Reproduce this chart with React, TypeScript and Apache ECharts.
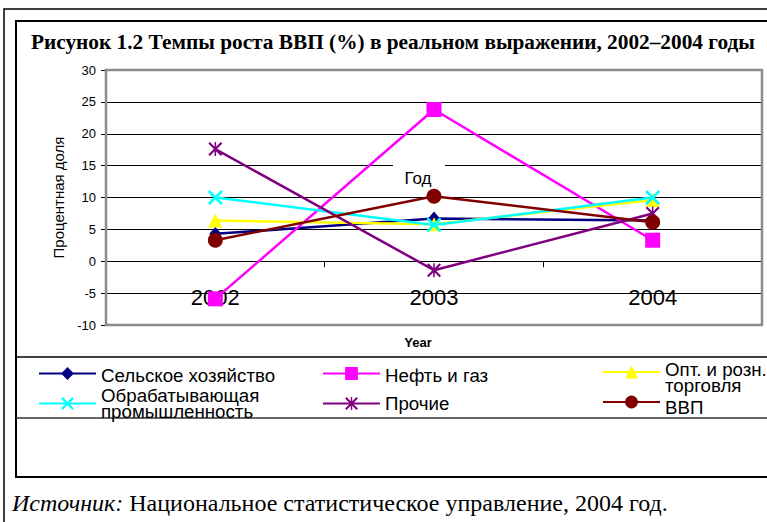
import React, { useEffect, useRef } from "react";
import * as echarts from "echarts";

const years = ["2002", "2003", "2004"];
const agriculture = [4.3, 6.7, 6.4];
const oilGas = [-5.9, 23.8, 3.3];
const trade = [6.4, 5.8, 9.6];
const manufacturing = [10.0, 5.7, 10.0];
const other = [17.6, -1.4, 7.5];
const gdp = [3.3, 10.2, 6.1];

const yMin = -10;
const yMax = 30;
const yStep = 5;

const seriesNames = [
  "Сельское хозяйство",
  "Нефть и газ",
  "Опт. и розн. торговля",
  "Обрабатывающая промышленность",
  "Прочие",
  "ВВП",
];
const legendLines = [
  ["Сельское хозяйство"],
  ["Нефть и газ"],
  ["Опт. и розн.", "торговля"],
  ["Обрабатывающая", "промышленность"],
  ["Прочие"],
  ["ВВП"],
];
const seriesValues = [agriculture, oilGas, trade, manufacturing, other, gdp];
const seriesColors = ["#000080", "#FF00FF", "#FFFF00", "#00FFFF", "#800080", "#800000"];

const titleText = "Рисунок 1.2 Темпы роста ВВП (%) в реальном выражении, 2002–2004 годы";
const yAxisTitle = "Процентная доля";
const xAxisTitle = "Year";
const floatingLabel = "Год";
const sourceLabel = "Источник:";
const sourceText = "Национальное статистическое управление, 2004 год.";

const X_PATH =
  "path://M2.5,0 L10,7.5 L17.5,0 L20,2.5 L12.5,10 L20,17.5 L17.5,20 L10,12.5 L2.5,20 L0,17.5 L7.5,10 L0,2.5 Z";
const STAR_PATH =
  "path://M2.2,0 L10,7.8 L17.8,0 L20,2.2 L12.2,10 L20,17.8 L17.8,20 L10,12.2 L2.2,20 L0,17.8 L7.8,10 L0,2.2 Z M8.9,0 L11.1,0 L11.1,20 L8.9,20 Z";

const seriesSymbols = ["diamond", "rect", "triangle", X_PATH, STAR_PATH, "circle"];
const seriesSymbolSizes: any[] = [[12, 14], 15, 14, 15, 14, 15];

// pad: top padding of a single text line; spacer: height of an empty leading line (multi-line labels)
const legendLayout = [
  { left: 38, top: 362, pad: 4, spacer: 0 },
  { left: 322, top: 362, pad: 4, spacer: 0 },
  { left: 602, top: 350.5, pad: 0, spacer: 11 },
  { left: 38, top: 386, pad: 0, spacer: 0 },
  { left: 322, top: 394, pad: 0, spacer: 0 },
  { left: 602, top: 387, pad: 11, spacer: 0 },
];

export default function App() {
  const ref = useRef<HTMLDivElement>(null);

  useEffect(() => {
    if (!ref.current) return;
    const chart = echarts.init(ref.current, null, { renderer: "svg" });

    const sans = "'Liberation Sans', Arial, sans-serif";
    const serif = "'Liberation Serif', 'Times New Roman', serif";

    const series = seriesNames.map((name, i) => ({
      name,
      type: "line",
      data: seriesValues[i],
      symbol: seriesSymbols[i],
      symbolSize: seriesSymbolSizes[i],
      showAllSymbol: true,
      lineStyle: { color: seriesColors[i], width: 2.5 },
      itemStyle: { color: seriesColors[i] },
      emphasis: { disabled: true },
      z: 3 + i,
    }));

    const legends = seriesNames.map((name, i) => {
      const lay = legendLayout[i];
      const body = legendLines[i].map((t, k) => (k === 0 ? `{f|${t}}` : `{n|${t}}`)).join("\n");
      const text = lay.spacer > 0 ? `{s| }\n${body}` : body;
      return {
        data: [name],
        left: lay.left,
        top: lay.top,
        padding: 0,
        itemWidth: 57,
        itemHeight: 16,
        selectedMode: false,
        formatter: () => text,
        textStyle: {
          fontFamily: sans,
          fontSize: 18.7,
          lineHeight: 16,
          color: "#000",
          rich: {
            s: { fontSize: 1, lineHeight: lay.spacer || 1, color: "#000" },
            f: {
              fontFamily: sans,
              fontSize: 18.7,
              lineHeight: 16,
              color: "#000",
              padding: [lay.pad, 0, 0, 0],
            },
            n: { fontFamily: sans, fontSize: 18.7, lineHeight: 16, color: "#000" },
          },
        },
      };
    });

    chart.setOption({
      animation: false,
      backgroundColor: "#fff",
      grid: { left: 106, right: 5, top: 70, bottom: 197, containLabel: false },
      legend: legends,
      xAxis: {
        type: "category",
        data: years,
        boundaryGap: true,
        axisLine: { onZero: true, lineStyle: { color: "#000", width: 1 } },
        axisTick: { show: true, length: 6, lineStyle: { color: "#000" } },
        axisLabel: { fontFamily: sans, fontSize: 22, color: "#000", margin: -39, hideOverlap: false },
        splitLine: { show: false },
      },
      yAxis: {
        type: "value",
        min: yMin,
        max: yMax,
        interval: yStep,
        name: yAxisTitle,
        nameLocation: "middle",
        nameGap: 32,
        nameTextStyle: { fontFamily: sans, fontSize: 15, color: "#000" },
        axisLine: { show: true, lineStyle: { color: "#808080", width: 2 } },
        axisTick: { show: true, length: 5, lineStyle: { color: "#000" } },
        axisLabel: { fontFamily: sans, fontSize: 13, color: "#000", margin: 10 },
        splitLine: { show: true, lineStyle: { color: "#000", width: 1 } },
      },
      graphic: [
        {
          type: "rect",
          shape: { x: 4, y: 9, width: 820, height: 600 },
          style: { fill: "none", stroke: "#000", lineWidth: 1.5 },
          silent: true,
          z: 0,
        },
        {
          type: "rect",
          shape: { x: 16, y: 21, width: 800, height: 456 },
          style: { fill: "none", stroke: "#000", lineWidth: 2 },
          silent: true,
          z: 0,
        },
        {
          type: "line",
          shape: { x1: 16, y1: 357, x2: 767, y2: 357 },
          style: { stroke: "#000", lineWidth: 1.5 },
          silent: true,
        },
        {
          type: "line",
          shape: { x1: 16, y1: 418, x2: 767, y2: 418 },
          style: { stroke: "#333", lineWidth: 1.5 },
          silent: true,
        },
        {
          type: "rect",
          shape: { x: 106, y: 70, width: 656, height: 255 },
          style: { fill: "none", stroke: "#8c8c8c", lineWidth: 2.5 },
          silent: true,
          z: 2,
        },
        {
          type: "rect",
          shape: { x: 393, y: 164, width: 52, height: 27 },
          style: { fill: "#fff" },
          silent: true,
          z: 1,
        },
        {
          type: "text",
          x: 418,
          y: 178,
          style: {
            text: floatingLabel,
            font: `17px ${sans}`,
            fill: "#000",
            align: "center",
            verticalAlign: "middle",
          },
          silent: true,
          z: 2,
        },
        {
          type: "text",
          x: 418,
          y: 342,
          style: {
            text: xAxisTitle,
            font: `bold 13px ${sans}`,
            fill: "#000",
            align: "center",
            verticalAlign: "middle",
          },
          silent: true,
        },
        {
          type: "text",
          x: 31,
          y: 42,
          style: {
            text: titleText,
            font: `bold 21.3px ${serif}`,
            fill: "#000",
            align: "left",
            verticalAlign: "middle",
          },
          silent: true,
        },
        {
          type: "text",
          x: 12,
          y: 503,
          style: {
            text: `{i|${sourceLabel}} {r|${sourceText}}`,
            rich: {
              i: { fontFamily: serif, fontSize: 24, fontStyle: "italic", fill: "#000" },
              r: { fontFamily: serif, fontSize: 24, fill: "#000" },
            },
            fontFamily: serif,
            fontSize: 24,
            fill: "#000",
            align: "left",
            verticalAlign: "middle",
          },
          silent: true,
        },
      ],
      series,
    });

    return () => chart.dispose();
  }, []);

  return (
    <div
      ref={ref}
      style={{ position: "fixed", left: 0, top: 0, width: 767, height: 522, background: "#fff" }}
    />
  );
}
